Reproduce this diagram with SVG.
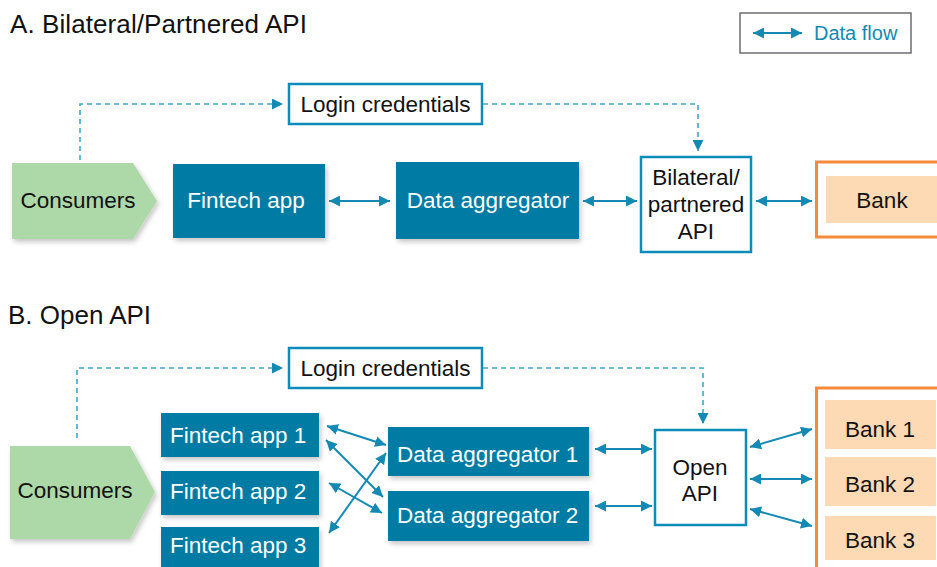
<svg xmlns="http://www.w3.org/2000/svg" width="937" height="567" viewBox="0 0 937 567">
<defs>
<style>
.t{font-family:"Liberation Sans",Arial,Helvetica,sans-serif;fill:#111}
.title{font-size:26px}
.b{font-size:22.5px}
.w{fill:#fff}
.teal{fill:#037CA4}
.outline{fill:#fff;stroke:#0B8DBA;stroke-width:2.5}
.cons{fill:#ADD8A8}
.peach{fill:#FDD9B4}
.orange{fill:#fff;stroke:#F58A3A;stroke-width:3}
.flow{fill:none;stroke:#1389B4;stroke-width:2;marker-start:url(#ah);marker-end:url(#ah)}
.dash{fill:none;stroke:#3DA6CE;stroke-width:1.6;stroke-dasharray:5 4;marker-end:url(#dh)}
</style>
<marker id="ah" markerUnits="userSpaceOnUse" markerWidth="12" markerHeight="11" viewBox="0 0 12 11" refX="11" refY="5.5" orient="auto-start-reverse">
<path d="M0,0 L11,5.5 L0,11 z" fill="#1389B4"/>
</marker>
<marker id="dh" markerUnits="userSpaceOnUse" markerWidth="12" markerHeight="11" viewBox="0 0 12 11" refX="11" refY="5.5" orient="auto">
<path d="M0,0 L11,5.5 L0,11 z" fill="#1389B4"/>
</marker>
<filter id="sh" x="-10%" y="-10%" width="125%" height="135%">
<feDropShadow dx="2" dy="3" stdDeviation="2.5" flood-color="#000" flood-opacity="0.22"/>
</filter>
</defs>
<rect width="937" height="567" fill="#fff"/>

<!-- Titles -->
<text class="t title" x="10" y="33" textLength="297">A. Bilateral/Partnered API</text>
<text class="t title" x="8" y="324">B. Open API</text>

<!-- Legend -->
<g id="legend">
<rect x="740" y="13" width="171" height="40" fill="#fff" stroke="#6E6E73" stroke-width="1.5"/>
<line class="flow" x1="753" y1="33" x2="802" y2="33"/>
<text class="t" x="814" y="40" style="font-size:20px;fill:#1389B4">Data flow</text>
</g>

<!-- Section A nodes -->
<g id="a-login">
<rect class="outline" x="289" y="84" width="193" height="40"/>
<text class="t b" x="385.5" y="112" text-anchor="middle">Login credentials</text>
</g>
<g id="a-consumers">
<polygon class="cons" filter="url(#sh)" points="12,163 133,163 157,201 133,239 12,239"/>
<text class="t b" x="78" y="208" text-anchor="middle">Consumers</text>
</g>
<g id="a-fintech">
<rect class="teal" filter="url(#sh)" x="173" y="164" width="152" height="74"/>
<text class="t b w" x="246" y="208" text-anchor="middle">Fintech app</text>
</g>
<g id="a-aggregator">
<rect class="teal" filter="url(#sh)" x="396" y="162" width="183" height="77"/>
<text class="t b w" x="488" y="208" text-anchor="middle">Data aggregator</text>
</g>
<g id="a-api">
<rect class="outline" x="641" y="157" width="110" height="95"/>
<text class="t b" x="696" y="185" text-anchor="middle">Bilateral/</text>
<text class="t b" x="696" y="212" text-anchor="middle">partnered</text>
<text class="t b" x="696" y="239" text-anchor="middle">API</text>
</g>
<g id="a-bank">
<rect class="orange" x="816.5" y="162" width="140" height="75"/>
<rect class="peach" x="826" y="176" width="120" height="47"/>
<text class="t b" x="882" y="208" text-anchor="middle">Bank</text>
</g>

<!-- Section B nodes -->
<g id="b-login">
<rect class="outline" x="289" y="348" width="193" height="40"/>
<text class="t b" x="385.5" y="376" text-anchor="middle">Login credentials</text>
</g>
<g id="b-consumers">
<polygon class="cons" filter="url(#sh)" points="10,446 130,446 155,492 130,539 10,539"/>
<text class="t b" x="75" y="498" text-anchor="middle">Consumers</text>
</g>
<g id="b-fintech1">
<rect class="teal" filter="url(#sh)" x="161" y="413" width="158" height="44"/>
<text class="t b w" x="170" y="443">Fintech app 1</text>
</g>
<g id="b-fintech2">
<rect class="teal" filter="url(#sh)" x="161" y="471" width="158" height="44"/>
<text class="t b w" x="170" y="499">Fintech app 2</text>
</g>
<g id="b-fintech3">
<rect class="teal" filter="url(#sh)" x="161" y="527" width="158" height="45"/>
<text class="t b w" x="170" y="553">Fintech app 3</text>
</g>
<g id="b-aggregator1">
<rect class="teal" filter="url(#sh)" x="388" y="427" width="201" height="49"/>
<text class="t b w" x="397" y="462">Data aggregator 1</text>
</g>
<g id="b-aggregator2">
<rect class="teal" filter="url(#sh)" x="388" y="491" width="201" height="50"/>
<text class="t b w" x="397" y="523">Data aggregator 2</text>
</g>
<g id="b-api">
<rect class="outline" x="655" y="430" width="91" height="95"/>
<text class="t b" x="700" y="475" text-anchor="middle">Open</text>
<text class="t b" x="700" y="501" text-anchor="middle">API</text>
</g>
<g id="b-banks">
<rect class="orange" x="816.5" y="388" width="140" height="200"/>
</g>
<g id="b-bank1">
<rect class="peach" x="825" y="400" width="111" height="49"/>
<text class="t b" x="880" y="437" text-anchor="middle">Bank 1</text>
</g>
<g id="b-bank2">
<rect class="peach" x="825" y="457" width="111" height="49"/>
<text class="t b" x="880" y="492" text-anchor="middle">Bank 2</text>
</g>
<g id="b-bank3">
<rect class="peach" x="825" y="516" width="111" height="44"/>
<text class="t b" x="880" y="548" text-anchor="middle">Bank 3</text>
</g>

<!-- Connectors -->
<g id="connectors">
<path class="dash" d="M80,160 V104 H283"/>
<path class="dash" d="M483,104 H698 V151"/>
<line class="flow" x1="329" y1="201" x2="390" y2="201"/>
<line class="flow" x1="583" y1="201" x2="637" y2="201"/>
<line class="flow" x1="756" y1="201" x2="812" y2="201"/>

<path class="dash" d="M77,438 V368 H283"/>
<path class="dash" d="M483,368 H703 V424"/>
<line class="flow" x1="327" y1="426" x2="386" y2="445"/>
<line class="flow" x1="326" y1="440" x2="383" y2="497"/>
<line class="flow" x1="329" y1="483" x2="382" y2="513"/>
<line class="flow" x1="329" y1="533" x2="386" y2="453"/>
<line class="flow" x1="595" y1="449" x2="652" y2="449"/>
<line class="flow" x1="595" y1="506" x2="652" y2="506"/>
<line class="flow" x1="750" y1="447" x2="812" y2="429"/>
<line class="flow" x1="750" y1="479" x2="812" y2="479"/>
<line class="flow" x1="750" y1="509" x2="812" y2="526"/>
</g>
</svg>
